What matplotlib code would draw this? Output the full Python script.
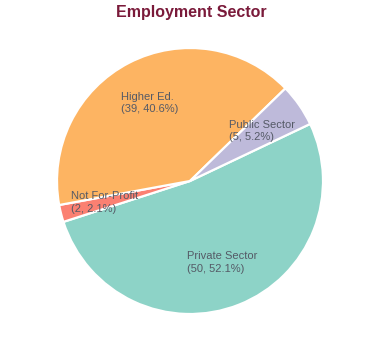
import numpy as np
import matplotlib
matplotlib.use("Agg")
import matplotlib.pyplot as plt

plt.rcParams['font.family'] = ['Liberation Sans', 'DejaVu Sans']

sectors = ["Private Sector", "Not For-Profit", "Higher Ed.", "Public Sector"]
counts = [50, 2, 39, 5]
colors = ["#8dd3c7", "#fb8072", "#fdb462", "#bebada"]
start = 25.4

fig = plt.figure(figsize=(3.8, 3.6), dpi=100)
ax = fig.add_axes([57/380, 46/360, 266/380, 266/360])
wedges, _ = ax.pie(counts, colors=colors, startangle=start, counterclock=False,
                   radius=1, wedgeprops=dict(edgecolor="white", linewidth=1.6))
ax.set_xlim(-1, 1); ax.set_ylim(-1, 1)
ax.set_aspect("equal")
ax.axis("off")

total = sum(counts)
for w, name, n in zip(wedges, sectors, counts):
    a = np.deg2rad((w.theta1 + w.theta2) / 2)
    r = 0.66
    ax.text(r*np.cos(a), r*np.sin(a), f"{name}\n({n}, {100*n/total:.1f}%)",
            ha="center", va="center", multialignment="left",
            fontsize=8, color="#555a66", linespacing=1.35)

fig.text(191/380, 1 - 13/360, "Employment Sector", ha="center", va="center",
         fontsize=11.5, fontweight="bold", color="#7a1a3a")
fig.savefig("out.png", dpi=100)
